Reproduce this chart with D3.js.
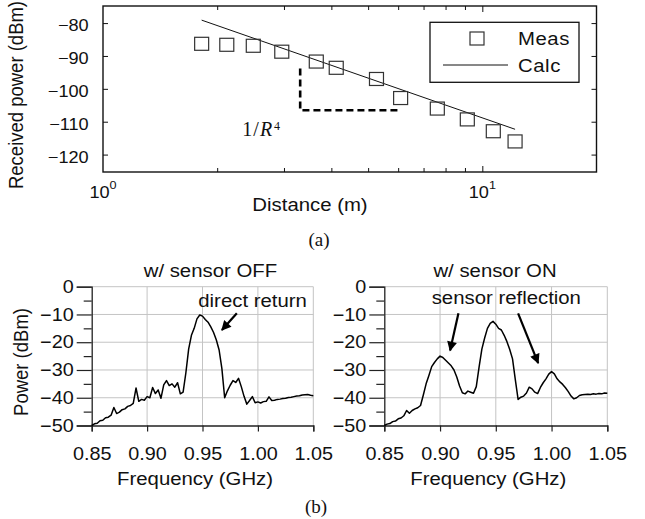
<!DOCTYPE html>
<html>
<head>
<meta charset="utf-8">
<script src="https://cdn.jsdelivr.net/npm/d3@7"></script>
<style>
  body { margin: 0; background: #fff; overflow: hidden; }
  svg { display: block; }
  svg text { font-family: "Liberation Sans", Arial, sans-serif; fill: #111; }
</style>
</head>
<body>
<div id="chart"></div>
<script>
// (a) received power vs distance
const distM   = [1.82, 2.12, 2.49, 2.96, 3.65, 4.12, 5.26, 6.09, 7.61, 9.13, 10.69, 12.2];
const measDbm = [-86.3, -86.6, -86.9, -88.7, -91.7, -93.6, -97.0, -102.8, -106.0, -109.3, -112.9, -116.0];
const calcDist = [1.82, 12.2];
const calcDbm  = [-79.1, -112.3];
const slopeDist = [3.31, 3.31, 6.01];
const slopeDbm  = [-93.8, -106.5, -106.5];
const powerTicks = [-80, -90, -100, -110, -120];

// (b) spectra, 0.85 - 1.05 GHz
const freqGHz = [0.85, 0.8525, 0.855, 0.8575, 0.86, 0.8625, 0.865, 0.8675, 0.87, 0.8725,
  0.875, 0.8775, 0.88, 0.8825, 0.885, 0.8875, 0.89, 0.8925, 0.895, 0.8975,
  0.90, 0.9025, 0.905, 0.9075, 0.91, 0.9125, 0.915, 0.9175, 0.92, 0.9225,
  0.925, 0.9275, 0.93, 0.9325, 0.935, 0.9375, 0.94, 0.9425, 0.945, 0.9475,
  0.95, 0.9525, 0.955, 0.9575, 0.96, 0.9625, 0.965, 0.9675, 0.97, 0.9725,
  0.975, 0.9775, 0.98, 0.9825, 0.985, 0.9875, 0.99, 0.9925, 0.995, 0.9975,
  1.00, 1.0025, 1.005, 1.0075, 1.01, 1.0125, 1.015, 1.0175, 1.02, 1.0225,
  1.025, 1.0275, 1.03, 1.0325, 1.035, 1.0375, 1.04, 1.0425, 1.045, 1.0475, 1.05];
const sensorOff = [-50.0, -49.4, -49.2, -48.3, -48.1, -47.2, -47.0, -46.3, -43.5, -45.7,
  -45.2, -44.3, -44.0, -43.1, -42.8, -42.0, -36.5, -41.3, -40.6, -40.9,
  -39.6, -40.0, -36.3, -38.5, -37.2, -40.2, -35.4, -33.8, -35.6, -35.0,
  -36.2, -34.6, -38.6, -38.0, -31.0, -22.5, -17.5, -15.0, -11.6, -10.2,
  -10.6, -11.8, -12.8, -14.5, -16.5, -19.2, -22.8, -29.5, -40.0, -37.5,
  -35.5, -33.8, -34.5, -33.0, -36.0, -39.5, -42.3, -41.0, -39.6, -41.8,
  -41.5, -41.9, -41.4, -41.3, -39.7, -41.0, -40.9, -40.6, -40.5, -40.3,
  -40.2, -39.9, -39.8, -39.6, -39.4, -39.3, -39.0, -38.9, -38.8, -39.1, -39.3];
const sensorOn = [-50.0, -49.5, -49.3, -48.6, -48.4, -47.6, -47.3, -46.5, -44.6, -45.6,
  -44.6, -44.0, -43.6, -42.8, -39.0, -35.0, -32.0, -28.8, -27.3, -26.0,
  -25.0, -25.5, -26.5, -27.5, -28.5, -30.0, -32.5, -35.8, -38.2, -38.6,
  -37.6, -38.0, -38.4, -36.0, -29.0, -22.5, -18.5, -15.0, -13.2, -12.5,
  -13.5, -15.0, -15.6, -17.5, -19.8, -22.6, -26.0, -33.5, -40.6, -39.8,
  -39.4, -38.3, -36.2, -36.8, -38.0, -38.5, -36.3, -34.6, -33.2, -31.5,
  -30.6, -31.4, -33.2, -34.3, -35.2, -36.4, -37.8, -39.4, -40.4, -40.0,
  -39.2, -38.9, -38.8, -38.7, -38.8, -38.6, -38.7, -38.5, -38.6, -38.3, -38.4];
const freqTicks = [0.85, 0.90, 0.95, 1.00, 1.05];
const dbmTicks = [0, -10, -20, -30, -40, -50];
const dbmMinor = [-5, -15, -25, -35, -45];

const width = 645, height = 519;
const stretch = "scale(1.1,1)";

const svg = d3.select("#chart").append("svg")
  .attr("width", width)
  .attr("height", height);
svg.append("rect").attr("width", width).attr("height", height).attr("fill", "#fff");

function label(g, x, y, str, size, anchor) {
  return g.append("text")
    .attr("transform", "translate(" + x + "," + y + ") " + stretch)
    .attr("font-size", size)
    .attr("text-anchor", anchor || "start")
    .text(str);
}

// ---------- (a) ----------
const xTop = d3.scaleLog().domain([1, 20]).range([103, 596.5]);
const yTop = d3.scaleLinear().domain([-125.3, -74.8]).range([172, 6]);

const panelA = svg.append("g");

panelA.append("g")
  .attr("transform", "translate(0,172)")
  .call(d3.axisBottom(xTop).tickValues([2, 3, 4, 5, 6, 7, 8, 9]).tickSize(-4).tickFormat(""));
panelA.append("g")
  .attr("transform", "translate(0,6)")
  .call(d3.axisTop(xTop).tickValues([2, 3, 4, 5, 6, 7, 8, 9]).tickSize(-4).tickFormat(""));
panelA.append("g")
  .attr("transform", "translate(0,172)")
  .call(d3.axisBottom(xTop).tickValues([10]).tickSize(-6).tickFormat(""));
panelA.append("g")
  .attr("transform", "translate(0,6)")
  .call(d3.axisTop(xTop).tickValues([10]).tickSize(-6).tickFormat(""));
panelA.append("g")
  .attr("transform", "translate(596.5,0)")
  .call(d3.axisRight(yTop).tickValues(powerTicks).tickSize(-5).tickFormat(""));
panelA.append("g")
  .attr("class", "ylab")
  .attr("transform", "translate(103,0)")
  .call(d3.axisLeft(yTop).tickValues(powerTicks).tickSize(-5).tickPadding(13));
panelA.selectAll(".domain").remove();
panelA.selectAll(".tick line").attr("stroke", "#111").attr("stroke-width", 1);
panelA.selectAll(".ylab text")
  .attr("transform", stretch)
  .attr("font-size", 16.5)
  .attr("dy", "0.45em");

panelA.append("rect")
  .attr("x", 103).attr("y", 6)
  .attr("width", 596.5 - 103).attr("height", 166)
  .attr("fill", "none").attr("stroke", "#111").attr("stroke-width", 1.4);

[1, 10].forEach(function(v, i) {
  const t = panelA.append("text")
    .attr("transform", "translate(" + xTop(v) + ",198) " + stretch)
    .attr("font-size", 16.5)
    .attr("text-anchor", "middle");
  t.append("tspan").text("10");
  t.append("tspan").attr("font-size", 11.5).attr("dy", -9).text(i);
});

// calc line
panelA.append("path")
  .datum(calcDist.map((d, i) => [d, calcDbm[i]]))
  .attr("d", d3.line().x(d => xTop(d[0])).y(d => yTop(d[1])))
  .attr("fill", "none").attr("stroke", "#111").attr("stroke-width", 1);

// 1/R^4 guide
panelA.append("path")
  .datum(slopeDist.map((d, i) => [d, slopeDbm[i]]))
  .attr("d", d3.line().x(d => xTop(d[0])).y(d => yTop(d[1])))
  .attr("fill", "none").attr("stroke", "#000").attr("stroke-width", 2.6)
  .attr("stroke-dasharray", "7,4");

// measured squares
panelA.selectAll("rect.meas")
  .data(distM)
  .enter()
  .append("rect")
  .attr("class", "meas")
  .attr("x", d => xTop(d) - 7)
  .attr("y", (d, i) => yTop(measDbm[i]) - 6.5)
  .attr("width", 14).attr("height", 13)
  .attr("fill", "none").attr("stroke", "#333").attr("stroke-width", 1.2);

const rlab = panelA.append("text")
  .attr("transform", "translate(" + xTop(2.33) + "," + yTop(-114.2) + ")")
  .attr("font-size", 20)
  .style("font-family", "'Liberation Serif', 'Times New Roman', serif");
rlab.append("tspan").text("1");
rlab.append("tspan").attr("dx", 1).text("/");
rlab.append("tspan").attr("font-style", "italic").attr("dx", 1).text("R");
rlab.append("tspan").attr("font-size", 12).attr("dy", -6).attr("dx", 2).text("4");

// legend
const leg = panelA.append("g");
leg.append("rect")
  .attr("x", 430).attr("y", 22.3).attr("width", 149).attr("height", 60)
  .attr("fill", "#fff").attr("stroke", "#111").attr("stroke-width", 1.3);
leg.append("rect")
  .attr("x", 470).attr("y", 32).attr("width", 14).attr("height", 13)
  .attr("fill", "none").attr("stroke", "#333").attr("stroke-width", 1.2);
leg.append("line")
  .attr("x1", 443).attr("x2", 508).attr("y1", 65).attr("y2", 65)
  .attr("stroke", "#111").attr("stroke-width", 1);
label(leg, 518, 45, "Meas", 18.5).attr("letter-spacing", 0.5);
label(leg, 518, 71.5, "Calc", 18.5).attr("letter-spacing", 0.5);

label(panelA, 310, 211, "Distance (m)", 18.5, "middle");
panelA.append("text")
  .attr("transform", "translate(23,95) " + stretch + " rotate(-90)")
  .attr("font-size", 18.5)
  .attr("text-anchor", "middle")
  .text("Received power (dBm)");
panelA.append("text")
  .attr("x", 319).attr("y", 246)
  .attr("font-size", 19).attr("text-anchor", "middle")
  .style("font-family", "'Liberation Serif', 'Times New Roman', serif")
  .text("(a)");

// ---------- (b) ----------
svg.append("defs").append("marker")
  .attr("id", "head")
  .attr("viewBox", "0 0 10 10")
  .attr("refX", 9).attr("refY", 5)
  .attr("markerWidth", 5).attr("markerHeight", 4.5)
  .attr("orient", "auto")
  .append("path").attr("d", "M0,0L10,5L0,10z").attr("fill", "#000");

function spectrum(x0, x1, values, title, titleF, showY) {
  const x = d3.scaleLinear().domain([0.85, 1.05]).range([x0, x1]);
  const y = d3.scaleLinear().domain([-50, 0]).range([425.5, 286.7]);
  const g = svg.append("g");

  g.append("g").selectAll("line.vg")
    .data(freqTicks.slice(1))
    .enter().append("line")
    .attr("x1", d => x(d)).attr("x2", d => x(d))
    .attr("y1", y(-50)).attr("y2", y(0))
    .attr("stroke", "#c4c4c4").attr("stroke-width", 1);
  g.append("g").selectAll("line.hg")
    .data(dbmTicks.slice(0, 5))
    .enter().append("line")
    .attr("x1", x(0.85)).attr("x2", x(1.05))
    .attr("y1", d => y(d)).attr("y2", d => y(d))
    .attr("stroke", "#c4c4c4").attr("stroke-width", 1);

  const yAxis = g.append("g")
    .attr("transform", "translate(" + x0 + ",0)")
    .call(d3.axisLeft(y).tickValues(dbmTicks).tickSize(15).tickPadding(1.4));
  yAxis.selectAll("text").attr("transform", stretch).attr("font-size", 18);
  g.append("g")
    .attr("transform", "translate(" + x0 + ",0)")
    .call(d3.axisLeft(y).tickValues(dbmMinor).tickSize(8).tickFormat(""))
    .select(".domain").remove();

  const xAxis = g.append("g")
    .attr("transform", "translate(0,425.5)")
    .call(d3.axisBottom(x).tickValues(freqTicks).tickSize(6).tickPadding(16)
      .tickFormat(d3.format(".2f")));
  xAxis.selectAll("text").attr("transform", stretch).attr("font-size", 18);

  g.selectAll(".domain").attr("stroke", "#222").attr("stroke-width", 1.3);
  g.selectAll(".tick line").attr("stroke", "#222").attr("stroke-width", 1.2);

  g.append("path")
    .datum(values)
    .attr("d", d3.line().x((d, i) => x(freqGHz[i])).y(d => y(d)))
    .attr("fill", "none").attr("stroke", "#000").attr("stroke-width", 1.5)
    .attr("stroke-linejoin", "round");

  label(g, x(titleF), 276.5, title, 18.5, "middle");
  label(g, x(0.9433), 485, "Frequency (GHz)", 18.5, "middle");
  if (showY) {
    g.append("text")
      .attr("transform", "translate(28,362) " + stretch + " rotate(-90)")
      .attr("font-size", 18.5)
      .attr("text-anchor", "middle")
      .text("Power (dBm)");
  }
  return { g: g, x: x, y: y };
}

function arrow(p, f1, d1, f2, d2) {
  p.g.append("line")
    .attr("x1", p.x(f1)).attr("y1", p.y(d1))
    .attr("x2", p.x(f2)).attr("y2", p.y(d2))
    .attr("stroke", "#000").attr("stroke-width", 2.2)
    .attr("marker-end", "url(#head)");
}

const off = spectrum(91.7, 313.3, sensorOff, "w/ sensor OFF", 0.9571, true);
label(off.g, off.x(0.9462), 307, "direct return", 18.5);
arrow(off, 0.981, -9.6, 0.9675, -15.6);

const on = spectrum(384.3, 607.3, sensorOn, "w/ sensor ON", 0.9493, false);
label(on.g, on.x(0.8925), 303.5, "sensor reflection", 18.5);
arrow(on, 0.9165, -9.6, 0.9090, -23.0);
arrow(on, 0.9700, -9.6, 0.9880, -27.5);

svg.append("text")
  .attr("x", 316).attr("y", 513)
  .attr("font-size", 19).attr("text-anchor", "middle")
  .style("font-family", "'Liberation Serif', 'Times New Roman', serif")
  .text("(b)");
</script>
</body>
</html>
